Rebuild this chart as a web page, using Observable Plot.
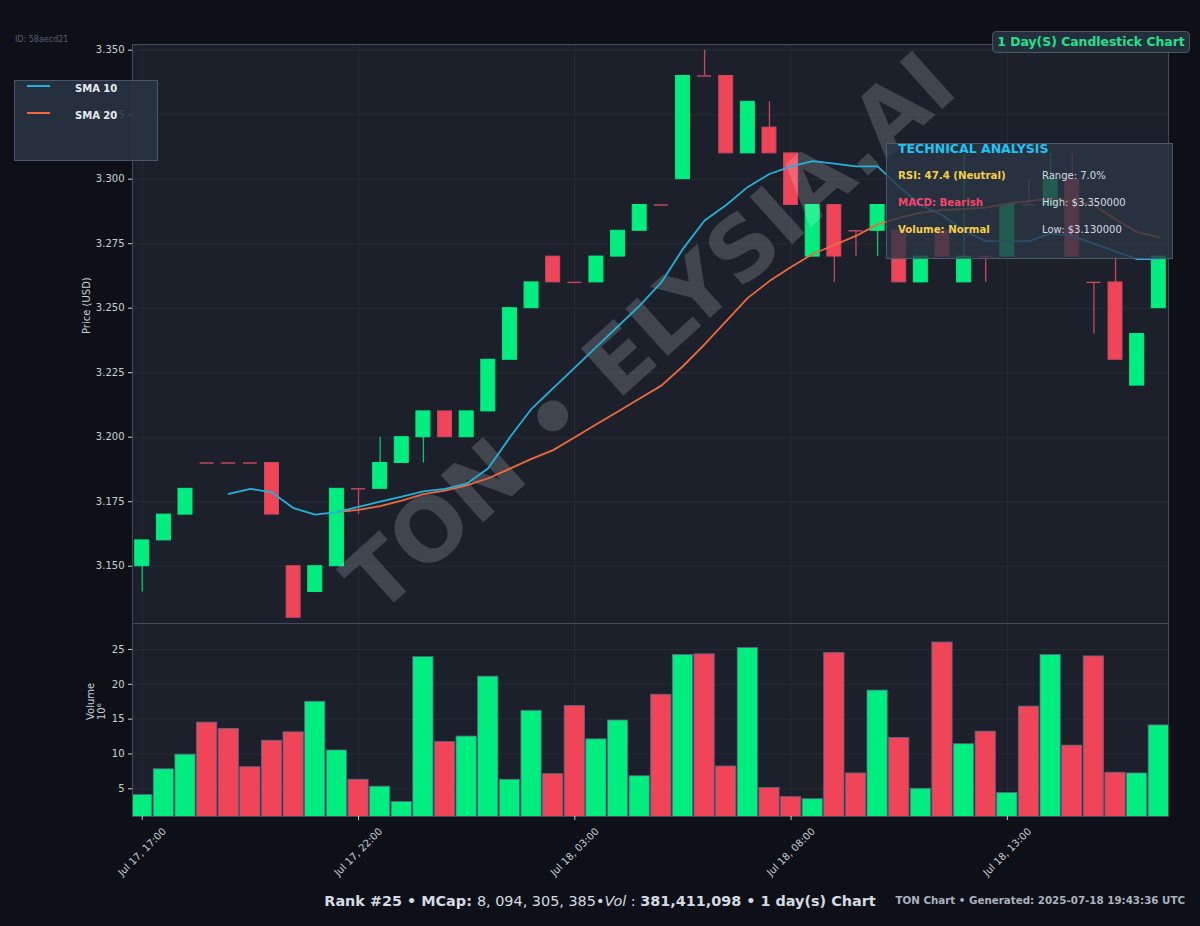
<!DOCTYPE html>
<html><head><meta charset="utf-8">
<script src="https://cdn.jsdelivr.net/npm/d3@7"></script>
<script src="https://cdn.jsdelivr.net/npm/@observablehq/plot@0.6"></script>
<style>
html,body{margin:0;padding:0;background:#0d1117;}
#root{position:relative;width:1200px;height:926px;background:#0d1117;overflow:hidden;font-family:"DejaVu Sans",sans-serif;}
#root svg{position:absolute;left:0;overflow:visible;max-width:none;}
.abs{position:absolute;white-space:nowrap;}
</style></head><body><div id="root"></div>
<script>
// ---- data (30-minute candles) ----
const times = [
"2025-07-17T17:00","2025-07-17T17:30","2025-07-17T18:00","2025-07-17T18:30","2025-07-17T19:00","2025-07-17T19:30",
"2025-07-17T20:00","2025-07-17T20:30","2025-07-17T21:00","2025-07-17T21:30","2025-07-17T22:00","2025-07-17T22:30",
"2025-07-17T23:00","2025-07-17T23:30","2025-07-18T00:00","2025-07-18T00:30","2025-07-18T01:00","2025-07-18T01:30",
"2025-07-18T02:00","2025-07-18T02:30","2025-07-18T03:00","2025-07-18T03:30","2025-07-18T04:00","2025-07-18T04:30",
"2025-07-18T05:00","2025-07-18T05:30","2025-07-18T06:00","2025-07-18T06:30","2025-07-18T07:00","2025-07-18T07:30",
"2025-07-18T08:00","2025-07-18T08:30","2025-07-18T09:00","2025-07-18T09:30","2025-07-18T10:00","2025-07-18T10:30",
"2025-07-18T11:00","2025-07-18T11:30","2025-07-18T12:00","2025-07-18T12:30","2025-07-18T13:00","2025-07-18T13:30",
"2025-07-18T14:00","2025-07-18T14:30","2025-07-18T15:00","2025-07-18T15:30","2025-07-18T16:00","2025-07-18T16:30"];
const open  = [3.15,3.16,3.17,3.19,3.19,3.19,3.19,3.15,3.14,3.15, 3.18,3.18,3.19,3.20,3.21,3.20,3.21,3.23,3.25,3.27,
               3.26,3.26,3.27,3.28,3.29,3.30,3.34,3.34,3.31,3.32, 3.31,3.27,3.29,3.28,3.28,3.28,3.26,3.28,3.26,3.27,
               3.27,3.29,3.29,3.30,3.26,3.26,3.22,3.25];
const high  = [3.16,3.17,3.18,3.19,3.19,3.19,3.19,3.15,3.15,3.18, 3.18,3.20,3.20,3.21,3.21,3.21,3.23,3.25,3.26,3.27,
               3.26,3.27,3.28,3.29,3.29,3.34,3.35,3.34,3.33,3.33, 3.31,3.29,3.29,3.28,3.29,3.28,3.27,3.28,3.31,3.27,
               3.29,3.30,3.31,3.31,3.26,3.27,3.24,3.27];
const low   = [3.14,3.16,3.17,3.19,3.19,3.19,3.17,3.13,3.14,3.15, 3.17,3.18,3.19,3.19,3.20,3.20,3.21,3.23,3.25,3.26,
               3.26,3.26,3.27,3.28,3.29,3.30,3.34,3.31,3.31,3.31, 3.29,3.27,3.26,3.27,3.27,3.26,3.26,3.27,3.26,3.26,
               3.27,3.29,3.29,3.27,3.24,3.23,3.22,3.25];
const close = [3.16,3.17,3.18,3.19,3.19,3.19,3.17,3.13,3.15,3.18, 3.18,3.19,3.20,3.21,3.20,3.21,3.23,3.25,3.26,3.26,
               3.26,3.27,3.28,3.29,3.29,3.34,3.34,3.31,3.33,3.31, 3.29,3.29,3.27,3.28,3.29,3.26,3.27,3.27,3.27,3.27,
               3.29,3.29,3.30,3.27,3.26,3.23,3.24,3.27];
const volume = [4.1,7.8,9.9,14.5,13.6,8.1,11.9,13.1,17.5,10.5, 6.3,5.3,3.1,23.9,11.7,12.5,21.1,6.3,16.2,7.1,
                16.9,12.1,14.8,6.8,18.5,24.2,24.3,8.2,25.2,5.1, 3.8,3.5,24.5,7.2,19.1,12.3,5.0,26.0,11.4,13.2,
                4.4,16.8,24.2,11.2,24.0,7.3,7.2,14.1];
const sma10 = [null,null,null,null,3.178,3.18,3.1786,3.1725,3.17,3.171,
               3.173,3.175,3.177,3.179,3.18,3.182,3.188,3.2,3.211,3.219,
               3.227,3.235,3.243,3.251,3.26,3.273,3.284,3.29,3.297,3.302,
               3.305,3.307,3.306,3.305,3.305,3.297,3.29,3.286,3.28,3.276,
               3.276,3.276,3.279,3.278,3.275,3.272,3.269,3.269];
const sma20 = [null,null,null,null,null,null,null,null,null,3.171,
               3.1718,3.1733,3.1754,3.1779,3.1793,3.1813,3.1841,3.1878,3.1916,3.195,
               3.2,3.205,3.21,3.215,3.22,3.2275,3.236,3.245,3.254,3.2605,
               3.266,3.271,3.2745,3.278,3.2825,3.285,3.287,3.288,3.2885,3.289,
               3.2905,3.2915,3.2925,3.2915,3.29,3.2845,3.2795,3.2775];
const priceTicks = [3.150,3.175,3.200,3.225,3.250,3.275,3.300,3.325,3.350];
const volumeTicks = [5,10,15,20,25];
const timeTicks = ["2025-07-17T17:00","2025-07-17T22:00","2025-07-18T03:00","2025-07-18T08:00","2025-07-18T13:00"];

// ---- build ----
const parse = d3.utcParse("%Y-%m-%dT%H:%M");
const rows = times.map((t,i)=>({t:parse(t),o:open[i],h:high[i],l:low[i],c:close[i],v:volume[i],s10:sma10[i],s20:sma20[i]}));
const tickDates = timeTicks.map(parse);
const GREEN="#00ee80", RED="#f04458", GREEN_W="#00c86c", RED_W="#c8485c";
const isUp = d => d.c > d.o;
const MIN = 60e3;
const pad = 13.5*MIN, halfBody = 9.7*MIN, halfBar = 14.05*MIN;
const xDomain = [new Date(+rows[0].t - pad), new Date(+rows[rows.length-1].t + pad)];
const fmt = d3.utcFormat("%b %d, %H:%M");
const baseStyle = {background:"transparent",color:"#c9d0d8",fontFamily:"DejaVu Sans",fontSize:"10px",overflow:"visible"};
const PANEL="#1b202b", BORDER="#444b59";

const price = Plot.plot({
  width:1200, height:623, marginTop:44, marginBottom:0, marginLeft:132, marginRight:32,
  style: baseStyle,
  color:{type:"identity"},
  x:{type:"utc", domain:xDomain, axis:null},
  y:{domain:[3.1278,3.3522]},
  marks:[
    Plot.frame({fill:PANEL}),
    Plot.gridX({ticks:tickDates, stroke:"#ffffff", strokeOpacity:0.05}),
    Plot.gridY({ticks:priceTicks, stroke:"#ffffff", strokeOpacity:0.05}),
    Plot.ruleX(rows, {x:"t", y1:"l", y2:"h", stroke:d=>isUp(d)?GREEN_W:RED_W, strokeWidth:1.3}),
    Plot.rect(rows.filter(d=>d.o!==d.c), {x1:d=>new Date(+d.t-halfBody), x2:d=>new Date(+d.t+halfBody), y1:"o", y2:"c",
      fill:d=>isUp(d)?GREEN:RED, stroke:d=>isUp(d)?GREEN:RED_W, strokeWidth:1}),
    Plot.ruleY(rows.filter(d=>d.o===d.c), {y:"o", x1:d=>new Date(+d.t-halfBody), x2:d=>new Date(+d.t+halfBody),
      stroke:RED_W, strokeWidth:1.4}),
    Plot.text(["TON • ELYSIA.AI"], {frameAnchor:"middle", rotate:-42, fontSize:87, fontWeight:"bold",
      fill:"#ffffff", fillOpacity:0.17}),
    Plot.line(rows.filter(d=>d.s20!=null), {x:"t", y:"s20", stroke:"#ee6a3c", strokeWidth:1.8}),
    Plot.line(rows.filter(d=>d.s10!=null), {x:"t", y:"s10", stroke:"#22b2da", strokeWidth:1.8}),
    Plot.frame({stroke:BORDER}),
    Plot.axisY({ticks:priceTicks, tickFormat:d3.format(".3f"), tickSize:4, tickPadding:4, label:null}),
    Plot.text(["Price (USD)"], {frameAnchor:"left", dx:-46, rotate:-90, fill:"#c9d0d8", fontSize:10})
  ]
});
price.style.top = "0px";

const vol = Plot.plot({
  width:1200, height:303, marginTop:0, marginBottom:110, marginLeft:132, marginRight:32,
  style: baseStyle,
  color:{type:"identity"},
  x:{type:"utc", domain:xDomain},
  y:{domain:[1.02,28.73]},
  marks:[
    Plot.frame({fill:PANEL}),
    Plot.gridX({ticks:tickDates, stroke:"#ffffff", strokeOpacity:0.05}),
    Plot.gridY({ticks:volumeTicks, stroke:"#ffffff", strokeOpacity:0.05}),
    Plot.rect(rows, {x1:d=>new Date(+d.t-halfBar), x2:d=>new Date(+d.t+halfBar), y1:0, y2:"v",
      fill:d=>isUp(d)?GREEN:RED, stroke:"#5b6784", strokeWidth:0.8, clip:true}),
    Plot.frame({stroke:BORDER}),
    Plot.axisY({ticks:volumeTicks, tickSize:4, tickPadding:4, label:null}),
    Plot.axisX({ticks:tickDates, tickSize:4, tickFormat:()=>"", label:null}),
    Plot.text(tickDates, {x:d=>d, text:d=>fmt(d), frameAnchor:"bottom", dy:35.5, rotate:-45,
      textAnchor:"middle", lineAnchor:"middle", fill:"#c9d0d8", fontSize:10}),
    Plot.text(["Volume\n10⁶"], {frameAnchor:"left", dx:-37, rotate:-90, fill:"#c9d0d8", fontSize:10, lineHeight:1.1})
  ]
});
vol.style.top = "623px";

const root = document.getElementById("root");
root.appendChild(price);
root.appendChild(vol);

function addDiv(html, css){ const d=document.createElement("div"); d.className="abs"; d.style.cssText=css; d.innerHTML=html; root.appendChild(d); return d; }

// ID
addDiv("ID: 58aecd21","left:15px;top:35px;font-size:8px;color:#56606e;");
// legend
addDiv(`
  <div class="abs" style="left:12px;top:4px;width:23px;height:2px;background:#22b2da;"></div>
  <div class="abs" style="left:60px;top:2px;font-size:10px;font-weight:bold;color:#e8ecf1;">SMA 10</div>
  <div class="abs" style="left:12px;top:31px;width:23px;height:2px;background:#ee6a3c;"></div>
  <div class="abs" style="left:60px;top:29px;font-size:10px;font-weight:bold;color:#e8ecf1;">SMA 20</div>`,
  "left:14px;top:80px;width:142px;height:79px;background:rgba(42,51,67,0.88);border:1px solid rgba(85,95,115,0.8);");
// title badge
addDiv("1 Day(S) Candlestick Chart",
  "left:992px;top:31px;width:196px;height:20px;line-height:20px;text-align:center;font-size:12.4px;font-weight:bold;color:#22e38b;background:rgba(38,48,62,0.95);border:1px solid #4c5566;border-radius:4px;");
// technical analysis box
addDiv(`
  <div class="abs" style="left:11px;top:-2px;font-size:12.5px;font-weight:bold;color:#1cc6f2;line-height:14px;">TECHNICAL ANALYSIS</div>
  <div class="abs" style="left:11px;top:26px;font-size:10.2px;font-weight:bold;color:#f5cf45;line-height:12px;">RSI: 47.4 (Neutral)</div>
  <div class="abs" style="left:155px;top:26px;font-size:10px;color:#d6dbe2;line-height:12px;">Range: 7.0%</div>
  <div class="abs" style="left:11px;top:53px;font-size:10.2px;font-weight:bold;color:#f2476a;line-height:12px;">MACD: Bearish</div>
  <div class="abs" style="left:155px;top:53px;font-size:10px;color:#d6dbe2;line-height:12px;">High: $3.350000</div>
  <div class="abs" style="left:11px;top:80px;font-size:10.2px;font-weight:bold;color:#f5cf45;line-height:12px;">Volume: Normal</div>
  <div class="abs" style="left:155px;top:80px;font-size:10px;color:#d6dbe2;line-height:12px;">Low: $3.130000</div>`,
  "left:886px;top:143px;width:285px;height:114px;background:rgba(44,54,70,0.8);border:1px solid rgba(80,92,112,0.9);");
// bottom texts
addDiv(`<b>Rank #25 • MCap: </b><span>8, 094, 305, 385•<i>Vol</i> : </span><b>381,411,098 • 1 day(s) Chart</b>`,
  "left:600px;top:893px;transform:translateX(-50%);font-size:14.4px;color:#d5dbe3;line-height:17px;");
addDiv("TON Chart • Generated: 2025-07-18 19:43:36 UTC",
  "right:15px;top:893px;font-size:10.3px;font-weight:bold;color:#aab3bf;line-height:14px;");
</script>
</body></html>
